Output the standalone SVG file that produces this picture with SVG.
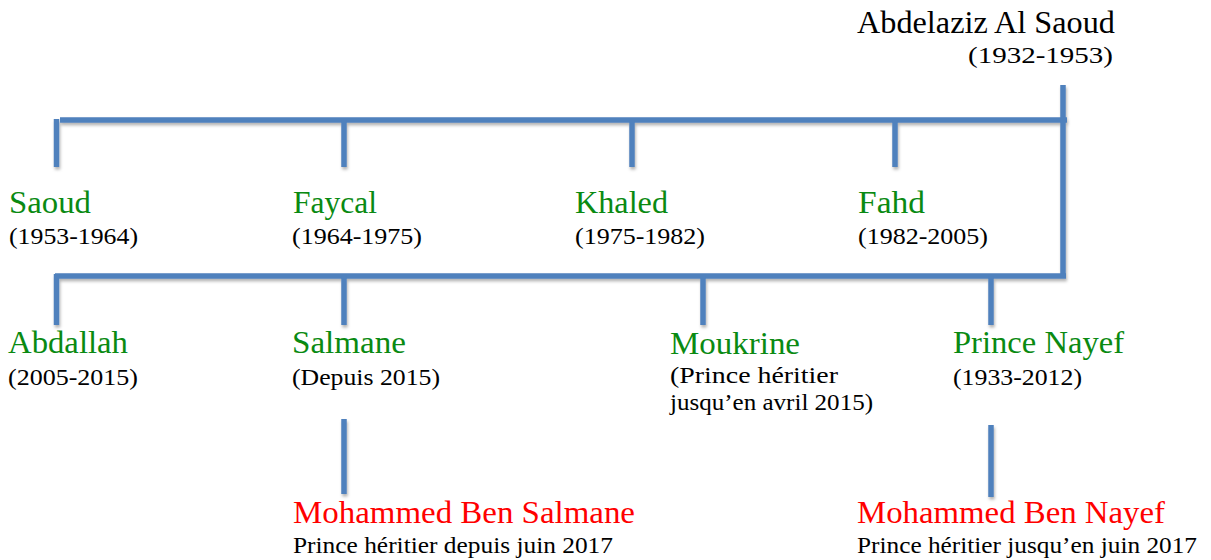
<svg xmlns="http://www.w3.org/2000/svg" width="1211" height="560" viewBox="0 0 1211 560">
<defs>
<filter id="sh" x="-20%" y="-20%" width="140%" height="140%">
<feDropShadow dx="1" dy="2.5" stdDeviation="1.5" flood-color="#000" flood-opacity="0.3"/>
</filter>
<style>
text{font-family:"Liberation Serif","DejaVu Serif",serif;}
.n{font-size:31px;}
.d{font-size:23px;fill:#000;}
.g{fill:#0a8a12;}
.r{fill:#ff0000;}
.k{fill:#000;}
.c line{stroke:#4f81bd;stroke-width:5.5;stroke-linecap:butt;}
</style>
</defs>
<rect width="1211" height="560" fill="#fff"/>
<g id="connectors" class="c" filter="url(#sh)">
<line x1="60" y1="120" x2="1067" y2="120"/>
<line x1="1063" y1="85" x2="1063" y2="278"/>
<line x1="56.5" y1="119" x2="56.5" y2="167"/>
<line x1="344" y1="120" x2="344" y2="167"/>
<line x1="632" y1="120" x2="632" y2="167"/>
<line x1="895" y1="120" x2="895" y2="167"/>
<line x1="55" y1="276" x2="1066" y2="276"/>
<line x1="56.5" y1="274" x2="56.5" y2="325"/>
<line x1="344" y1="276" x2="344" y2="325"/>
<line x1="703" y1="276" x2="703" y2="325"/>
<line x1="991" y1="276" x2="991" y2="325"/>
<line x1="344" y1="419" x2="344" y2="494"/>
<line x1="991" y1="425" x2="991" y2="497"/>
</g>
<g id="abdelaziz">
<text class="n k" x="857" y="33" textLength="258" lengthAdjust="spacingAndGlyphs">Abdelaziz Al Saoud</text>
<text class="d" x="968" y="63" textLength="145" lengthAdjust="spacingAndGlyphs">(1932-1953)</text>
</g>
<g id="saoud">
<text class="n g" x="9" y="213" textLength="82" lengthAdjust="spacingAndGlyphs">Saoud</text>
<text class="d" x="9" y="244" textLength="129" lengthAdjust="spacingAndGlyphs">(1953-1964)</text>
</g>
<g id="faycal">
<text class="n g" x="293" y="213" textLength="84" lengthAdjust="spacingAndGlyphs">Faycal</text>
<text class="d" x="292" y="244" textLength="130" lengthAdjust="spacingAndGlyphs">(1964-1975)</text>
</g>
<g id="khaled">
<text class="n g" x="575" y="213" textLength="93" lengthAdjust="spacingAndGlyphs">Khaled</text>
<text class="d" x="575" y="244" textLength="130" lengthAdjust="spacingAndGlyphs">(1975-1982)</text>
</g>
<g id="fahd">
<text class="n g" x="858" y="213" textLength="67" lengthAdjust="spacingAndGlyphs">Fahd</text>
<text class="d" x="858" y="244" textLength="130" lengthAdjust="spacingAndGlyphs">(1982-2005)</text>
</g>
<g id="abdallah">
<text class="n g" x="8" y="353" textLength="120" lengthAdjust="spacingAndGlyphs">Abdallah</text>
<text class="d" x="8" y="385" textLength="130" lengthAdjust="spacingAndGlyphs">(2005-2015)</text>
</g>
<g id="salmane">
<text class="n g" x="292" y="353" textLength="114" lengthAdjust="spacingAndGlyphs">Salmane</text>
<text class="d" x="292" y="385" textLength="148" lengthAdjust="spacingAndGlyphs">(Depuis 2015)</text>
</g>
<g id="moukrine">
<text class="n g" x="670" y="354" textLength="130" lengthAdjust="spacingAndGlyphs">Moukrine</text>
<text class="d" x="670" y="383" textLength="168" lengthAdjust="spacingAndGlyphs">(Prince héritier</text>
<text class="d" x="670" y="410" textLength="203" lengthAdjust="spacingAndGlyphs">jusqu’en avril 2015)</text>
</g>
<g id="nayef">
<text class="n g" x="953" y="353" textLength="171" lengthAdjust="spacingAndGlyphs">Prince Nayef</text>
<text class="d" x="953" y="385" textLength="129" lengthAdjust="spacingAndGlyphs">(1933-2012)</text>
</g>
<g id="mbs">
<text class="n r" x="293" y="523" textLength="342" lengthAdjust="spacingAndGlyphs">Mohammed Ben Salmane</text>
<text class="d" x="293" y="553" textLength="320" lengthAdjust="spacingAndGlyphs">Prince héritier depuis juin 2017</text>
</g>
<g id="mbn">
<text class="n r" x="857" y="523" textLength="308" lengthAdjust="spacingAndGlyphs">Mohammed Ben Nayef</text>
<text class="d" x="857" y="553" textLength="340" lengthAdjust="spacingAndGlyphs">Prince héritier jusqu’en juin 2017</text>
</g>
</svg>
